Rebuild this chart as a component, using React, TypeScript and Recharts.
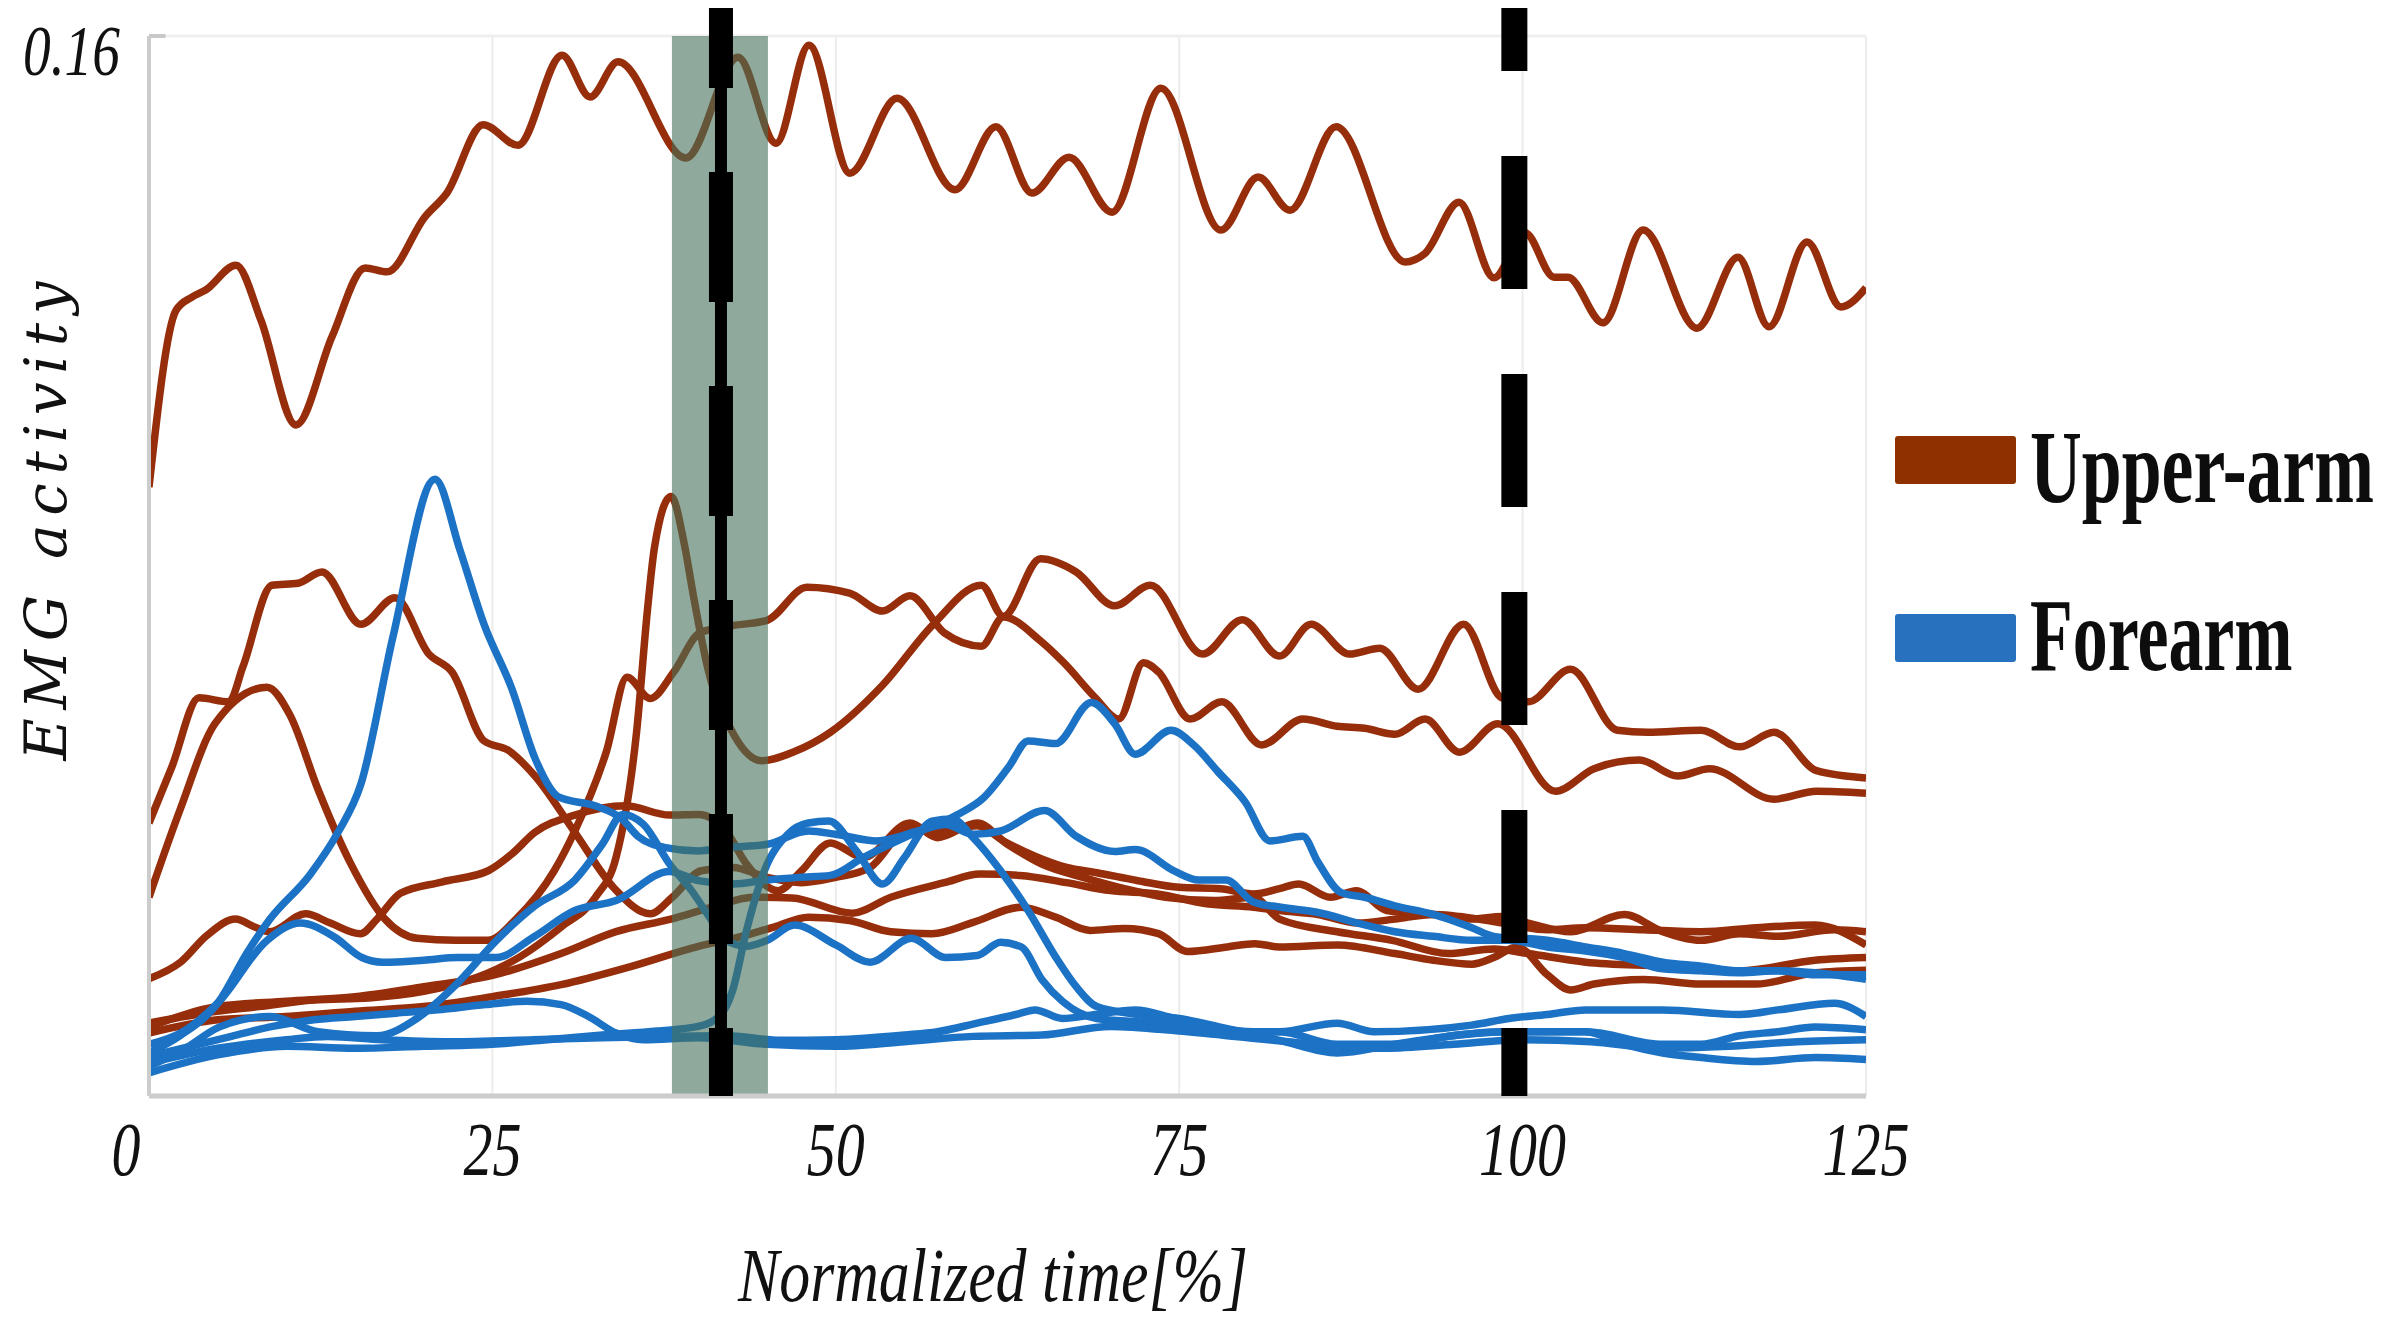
import React from 'react';
import { LineChart, Line, XAxis, YAxis, CartesianGrid, ReferenceLine, ReferenceArea } from 'recharts';

type Pt = [number, number];

const xTicks = [0, 25, 50, 75, 100, 125];
const yTicks = [0.16];
const xTitle = 'Normalized time[%]';
const yTitle = 'EMG activity';
const upperColor = '#962D0B';
const foreColor = '#1C72C4';
const legendItems = [
  { label: 'Upper-arm', color: '#8F3000', sx: 0.69 },
  { label: 'Forearm', color: '#2771BF', sx: 0.672 },
];
const eventSolid = 41.64;
const eventDashed = 99.4;
const bandRange = [38.07, 45.06];

// Upper-arm series [time %, EMG]
const upperA: Pt[] = [[0,0.0919],[1.97,0.1186],[3.13,0.1206],[4.15,0.1217],[6.33,0.1254],[8.15,0.1171],[10.7,0.1013],[13.32,0.1146],[15.73,0.125],[17.33,0.1244],[20.09,0.1327],[21.69,0.1363],[24.32,0.1466],[26.86,0.1435],[30.07,0.1571],[32.11,0.1508],[34.14,0.1561],[39.09,0.1416],[42.88,0.1568],[45.65,0.1438],[48.05,0.1586],[51.03,0.1393],[54.46,0.1506],[58.68,0.1368],[61.66,0.1463],[64.28,0.1363],[66.98,0.1417],[70.11,0.1334],[73.67,0.1521],[78.04,0.1307],[80.74,0.1387],[83.07,0.1337],[86.42,0.1463],[91.44,0.1259],[92.9,0.1272],[95.37,0.1349],[97.92,0.1235],[100.17,0.1303],[102.29,0.1236],[103.3,0.1236],[105.85,0.1167],[108.77,0.1307],[112.7,0.1159],[115.68,0.1266],[117.94,0.1161],[120.71,0.1289],[123.18,0.1191],[125,0.122]];
const upperB: Pt[] = [[0,0.0412],[1.67,0.0497],[3.64,0.0601],[5.82,0.0595],[6.84,0.0648],[8.95,0.0771],[10.85,0.0774],[12.59,0.0791],[15.43,0.0712],[17.91,0.0752],[20.38,0.0667],[22.06,0.064],[24.39,0.0536],[26.14,0.0522],[28.1,0.0483],[31,0.0398],[33.85,0.0314],[36.5,0.0275],[38.1,0.03],[40.2,0.034],[42.5,0.0345],[45,0.033],[47.5,0.0322],[50,0.033],[52.5,0.0345],[55.4,0.0405],[57.4,0.04],[60.3,0.0408],[62.2,0.0385],[64.5,0.0362],[66.8,0.0345],[69,0.0337],[72,0.0325],[75,0.0315],[78,0.0313],[80.4,0.0305],[82.3,0.0313],[83.7,0.032],[86,0.03],[87.9,0.031],[90.1,0.028],[93.5,0.0274],[96.3,0.0267],[98.5,0.0271],[100.4,0.0261],[103.5,0.0248],[107.4,0.0274],[110.2,0.0248],[113,0.0235],[115.8,0.0245],[118.6,0.0241],[122.7,0.0251],[125,0.0248]];
const upperC: Pt[] = [[0,0.011],[4,0.0125],[8,0.0135],[12,0.0145],[16,0.0148],[20,0.0158],[24,0.018],[27,0.021],[30,0.0255],[32.5,0.03],[34,0.036],[35.5,0.055],[36.3,0.0736],[36.8,0.0828],[38,0.0905],[39,0.083],[39.6,0.0759],[40.7,0.0644],[42.4,0.0552],[44.6,0.0506],[47,0.052],[49.6,0.0549],[53.4,0.062],[57.1,0.0712],[60.6,0.0771],[62.2,0.0724],[64.9,0.0811],[67.5,0.0791],[70.3,0.074],[72.9,0.0771],[76.7,0.0667],[79.6,0.0719],[82.3,0.0664],[84.6,0.0712],[87.4,0.0667],[89.6,0.0676],[92.4,0.0614],[95.7,0.0712],[98.5,0.0601],[100.4,0.0595],[103.5,0.0644],[106.9,0.0552],[109.1,0.0549],[113,0.0552],[115.8,0.0527],[118.3,0.0549],[121.4,0.0491],[125,0.048]];
const upperD: Pt[] = [[0,0.03],[2.26,0.0432],[4.8,0.0562],[8.59,0.0617],[10.26,0.0575],[12.3,0.0463],[14.63,0.0353],[17.18,0.0267],[19.51,0.0238],[22.35,0.0235],[24.68,0.0235],[26.72,0.0267],[29.5,0.034],[31,0.04],[33.3,0.052],[34.8,0.0632],[36.5,0.06],[38.2,0.064],[40.1,0.0699],[42.5,0.071],[45,0.0718],[47.9,0.0768],[51,0.0759],[53.4,0.0732],[55.4,0.0755],[57.9,0.0699],[60.6,0.0679],[62.2,0.0723],[64.9,0.0687],[66.6,0.0654],[68.9,0.0601],[70.6,0.0569],[72.4,0.0654],[73.5,0.064],[75.8,0.0569],[78.1,0.0595],[81,0.053],[84,0.0569],[86.5,0.0558],[88.5,0.0555],[90.7,0.0546],[92.9,0.0569],[95.4,0.0519],[98.2,0.0562],[102.4,0.046],[105.2,0.0494],[108.5,0.0507],[111.3,0.0483],[113.6,0.0494],[118.3,0.0448],[121.4,0.046],[125,0.0457]];
const upperE: Pt[] = [[0,0.0177],[2.3,0.0202],[4.2,0.0242],[6.3,0.0267],[7.7,0.0255],[8.8,0.0248],[11.4,0.0275],[13.2,0.0261],[15.4,0.0245],[16.6,0.0267],[18.3,0.0306],[21.3,0.0323],[24.7,0.034],[26.4,0.0365],[28.1,0.0398],[31,0.0424],[34.7,0.0438],[37.9,0.0424],[40,0.0425],[42,0.04],[43.5,0.035],[45.8,0.031],[47.5,0.034],[49.6,0.0382],[52,0.036],[55.4,0.0412],[57.4,0.039],[60.3,0.0412],[62.5,0.038],[65,0.035],[68,0.033],[71,0.0313],[74,0.03],[77.5,0.0295],[80.4,0.03],[82.3,0.0267],[86.5,0.0248],[90.5,0.0235],[94.6,0.0215],[97.9,0.0222],[100.4,0.0215],[104.6,0.0202],[110.2,0.0196],[115.8,0.0189],[121.3,0.0205],[125,0.0209]];
const upperF: Pt[] = [[0,0.0104],[5,0.0135],[10,0.0143],[15,0.015],[20,0.0165],[25,0.0182],[30,0.0215],[34,0.0248],[38,0.0267],[41,0.0285],[44,0.03],[46.8,0.0299],[51.2,0.0276],[54,0.03],[57.9,0.0322],[60.5,0.0335],[63.4,0.0333],[66.8,0.0322],[70,0.031],[73.4,0.0305],[77,0.029],[80.4,0.0285],[82.3,0.028],[85.1,0.0274],[88,0.0261],[90.7,0.0267],[93.5,0.0274],[96.8,0.0267],[98.5,0.0261],[101.8,0.0251],[104.6,0.0254],[108.8,0.0251],[113,0.0248],[117,0.0254],[121.3,0.0258],[125,0.0228]];
const upperG: Pt[] = [[0,0.0095],[5,0.0115],[10,0.012],[15,0.0128],[20,0.0135],[25,0.015],[30,0.0168],[35,0.0195],[40,0.0226],[43,0.024],[45.5,0.0255],[48,0.027],[51,0.0265],[54,0.0248],[57,0.0245],[60,0.0262],[63.5,0.0285],[66,0.027],[68.5,0.025],[71,0.0253],[73.5,0.0245],[75.6,0.0218],[78.5,0.0225],[80.5,0.023],[82.3,0.0225],[86.5,0.0228],[90.7,0.0215],[93.5,0.0205],[96.3,0.0199],[97.9,0.0209],[99.6,0.0225],[101.8,0.0183],[103.5,0.016],[105.2,0.0169],[108.8,0.0176],[113,0.0169],[117,0.0169],[121.3,0.0186],[125,0.019]];

// Forearm series [time %, EMG]
const foreA: Pt[] = [[0,0.0065],[2.26,0.0091],[5.1,0.0143],[7.13,0.0216],[8.81,0.0267],[11.72,0.0334],[13.76,0.0398],[15.43,0.0471],[17.76,0.0693],[20.82,0.0931],[22.64,0.0824],[24.39,0.0712],[26.43,0.0614],[28.1,0.051],[29.85,0.0451],[32.47,0.0438],[34.44,0.0418],[35.6,0.0392],[37.6,0.0375],[40,0.037],[42,0.0375],[45,0.038],[48,0.04],[50,0.0395],[53,0.0385],[56,0.04],[58,0.041],[60,0.0395],[62,0.04],[65.2,0.0431],[67.5,0.0392],[70.3,0.0369],[71.8,0.0372],[74.7,0.0339],[76.4,0.0326],[78.4,0.0326],[80.4,0.0293],[82.4,0.0285],[85.1,0.0277],[88,0.0261],[90.7,0.0248],[93.5,0.0241],[96.3,0.0235],[99,0.0235],[101.8,0.0225],[104.6,0.0219],[107.4,0.0209],[110.2,0.0192],[113,0.0189],[115.8,0.0186],[118.6,0.0189],[121.3,0.0186],[125,0.0176]];
const foreB: Pt[] = [[0,0.0078],[2.3,0.0095],[5,0.014],[8.6,0.0235],[11,0.0261],[13.5,0.024],[15.5,0.0209],[17,0.0202],[20,0.0205],[22.5,0.0209],[25.3,0.0209],[28,0.024],[31,0.028],[34,0.0295],[37.9,0.0339],[40,0.0325],[42.5,0.032],[45,0.0326],[47.3,0.033],[49.6,0.0333],[52,0.036],[55,0.039],[58.8,0.0424],[60.8,0.0451],[62.6,0.0497],[64,0.0536],[66,0.0532],[68.6,0.0594],[70.3,0.0562],[71.8,0.0516],[74.4,0.0552],[76.1,0.0529],[77.8,0.049],[79.8,0.0444],[81.6,0.0385],[84,0.0392],[85.1,0.0353],[86.8,0.0307],[88.5,0.03],[90.7,0.0287],[93.5,0.0274],[96.3,0.0254],[97.9,0.0241],[101.8,0.0235],[104.6,0.0225],[107.4,0.0215],[110.2,0.0202],[113,0.0196],[115.8,0.0189],[118.6,0.0189],[121.3,0.0183],[125,0.0183]];
const foreC: Pt[] = [[0,0.0045],[2.5,0.007],[5.1,0.0104],[8.8,0.012],[12.3,0.0097],[16.6,0.0091],[19.5,0.0117],[22.4,0.0169],[25.3,0.0235],[28.1,0.0287],[31,0.0326],[33,0.038],[34.5,0.0425],[36,0.041],[37.9,0.035],[39.5,0.031],[40.8,0.027],[42,0.0235],[43.5,0.0226],[45,0.0235],[47,0.0258],[50,0.0228],[52.5,0.0202],[55.5,0.0238],[58,0.0209],[60.3,0.0212],[62,0.0232],[63.5,0.0225],[65,0.0176],[66.5,0.0143],[69,0.0117],[72,0.0112],[75,0.0108],[78,0.0097],[82.3,0.0097],[86.5,0.0078],[90.7,0.0078],[94.9,0.0091],[99,0.0097],[104.6,0.0097],[110.2,0.0078],[113,0.0078],[115.8,0.0091],[118.6,0.0097],[121.3,0.0104],[125,0.01]];
const foreD: Pt[] = [[0,0.0035],[5,0.0062],[10,0.0075],[15,0.0072],[20,0.0075],[25,0.0078],[29,0.0085],[33,0.0092],[37,0.0098],[40,0.0105],[41.5,0.012],[42.5,0.016],[43.5,0.025],[44.8,0.034],[46.5,0.0395],[48,0.0412],[49.5,0.0415],[51.5,0.037],[53.4,0.032],[55,0.036],[57,0.0415],[58.5,0.0418],[60,0.039],[62,0.034],[64,0.028],[66,0.021],[67.5,0.0165],[69,0.0135],[72,0.0123],[75,0.0117],[78,0.0104],[82.3,0.0084],[86.5,0.0065],[90.7,0.0078],[94.9,0.0091],[98.5,0.0097],[104.6,0.0097],[107.4,0.0078],[110.2,0.0065],[113,0.0058],[117,0.0052],[121.3,0.0058],[125,0.0055]];
const foreE: Pt[] = [[0,0.005],[5,0.0072],[10,0.0085],[13,0.009],[17,0.0085],[22,0.0082],[28,0.0085],[33,0.0088],[38,0.009],[42,0.0091],[46,0.0084],[50,0.0085],[55,0.0092],[57.4,0.0097],[60.3,0.011],[63.1,0.0123],[64.5,0.013],[66.5,0.0117],[68.9,0.0123],[71.8,0.013],[74.7,0.0117],[77.5,0.0104],[80.4,0.0097],[82.3,0.0097],[86.5,0.011],[89.2,0.0097],[96.3,0.0107],[99,0.0117],[101.8,0.0123],[104.6,0.013],[110.2,0.013],[115.8,0.0123],[118.6,0.013],[122.7,0.014],[125,0.012]];
const foreF: Pt[] = [[0,0.006],[3,0.0075],[6,0.009],[9,0.0105],[12,0.0115],[15,0.012],[18,0.0125],[21,0.013],[24.5,0.0138],[27.5,0.0143],[30,0.0138],[32,0.012],[34,0.0095],[36,0.0085],[40,0.0088],[45,0.0078],[50,0.0075],[55,0.0082],[60,0.009],[65,0.0092],[70,0.0105],[75,0.0098],[80,0.0088],[85,0.0078],[90,0.0072],[95,0.0078],[100,0.0085],[105,0.0082],[110,0.0072],[115,0.0075],[120,0.0082],[125,0.0085]];

const upperSeries = [upperA, upperB, upperC, upperD, upperE, upperF, upperG];
const foreSeries = [foreA, foreB, foreC, foreD, foreE, foreF];

const toData = (s: Pt[]) => s.map(([t, v]) => ({ t, v }));

const W = 2387;
const H = 1320;
const PLOT_TOP = 36;
const PLOT_BOTTOM = 1096;
const topValue = 0.16 + (PLOT_TOP * 0.16) / (PLOT_BOTTOM - PLOT_TOP);

const XTick = (props: any) => {
  const { x, y, payload } = props;
  const s = String(payload.value);
  return (
    <text
      x={x + (payload.value === 0 ? -23 : 0)}
      y={y + 79}
      textAnchor="middle"
      fontFamily="Liberation Serif"
      fontStyle="italic"
      fontSize={76}
      fill="#111"
      textLength={29 * s.length}
      lengthAdjust="spacingAndGlyphs"
    >
      {s}
    </text>
  );
};

const YTick = (props: any) => {
  const { x, y, payload } = props;
  return (
    <text
      x={x - 29}
      y={y + 39}
      textAnchor="end"
      fontFamily="Liberation Serif"
      fontStyle="italic"
      fontSize={72}
      fill="#111"
      textLength={97}
      lengthAdjust="spacingAndGlyphs"
    >
      {String(payload.value)}
    </text>
  );
};

export default function App() {
  return (
    <div style={{ position: 'relative', width: W, height: H, margin: '-8px 0 0 -8px', background: '#ffffff' }}>
      <LineChart width={W} height={H} margin={{ top: PLOT_TOP, right: 521, bottom: 124, left: 49 }}>
        <CartesianGrid horizontal={false} vertical stroke="#ececec" strokeWidth={2} />
        <XAxis
          type="number"
          dataKey="t"
          domain={[0, 125]}
          ticks={xTicks}
          interval={0}
          allowDataOverflow
          tick={XTick}
          tickLine={false}
          tickSize={0}
          tickMargin={0}
          height={100}
          axisLine={{ stroke: '#cccccc', strokeWidth: 5 }}
        />
        <YAxis
          type="number"
          dataKey="v"
          domain={[0, 0.16]}
          ticks={yTicks}
          allowDataOverflow
          tick={YTick}
          tickLine={false}
          tickSize={0}
          tickMargin={0}
          width={100}
          axisLine={{ stroke: '#cccccc', strokeWidth: 4 }}
        />
        <ReferenceLine y={0.16} stroke="#efefef" strokeWidth={3} />
        <ReferenceLine segment={[{ x: 0, y: 0.16 }, { x: 1.2, y: 0.16 }]} stroke="#c8c8c8" strokeWidth={4} ifOverflow="visible" />
        {upperSeries.map((s, i) => (
          <Line key={'u' + i} data={toData(s)} dataKey="v" type="monotone" stroke={upperColor} strokeWidth={7.5} dot={false} activeDot={false} isAnimationActive={false} />
        ))}
        {foreSeries.map((s, i) => (
          <Line key={'f' + i} data={toData(s)} dataKey="v" type="monotone" stroke={foreColor} strokeWidth={7.5} dot={false} activeDot={false} isAnimationActive={false} />
        ))}
        <ReferenceArea x1={bandRange[0]} x2={bandRange[1]} y1={0} y2={0.16} fill="#44715A" fillOpacity={0.6} stroke="none" zIndex={450} />
        <ReferenceLine segment={[{ x: eventSolid, y: topValue }, { x: eventSolid, y: 0 }]} stroke="#000" strokeWidth={12} ifOverflow="visible" zIndex={500} />
        <ReferenceLine segment={[{ x: eventSolid, y: topValue }, { x: eventSolid, y: 0 }]} stroke="#000" strokeWidth={24} strokeDasharray="130 84" strokeDashoffset={42} ifOverflow="visible" zIndex={500} />
        <ReferenceLine segment={[{ x: eventDashed, y: topValue }, { x: eventDashed, y: 0 }]} stroke="#000" strokeWidth={26} strokeDasharray="133 85" strokeDashoffset={62} ifOverflow="visible" zIndex={500} />
      </LineChart>
      <svg width={W} height={H} style={{ position: 'absolute', left: 0, top: 0, pointerEvents: 'none' }}>
        <text x={993} y={1301} textAnchor="middle" fontFamily="Liberation Serif" fontStyle="italic" fontSize={76} fill="#111" textLength={510} lengthAdjust="spacingAndGlyphs">{xTitle}</text>
        <text transform="translate(66,521) rotate(-90)" x={0} y={0} textAnchor="middle" fontFamily="DejaVu Serif" fontStyle="italic" fontSize={58} fill="#111" textLength={479} lengthAdjust="spacing">{yTitle}</text>
        {legendItems.map((it, i) => (
          <g key={it.label}>
            <rect x={1895} y={i === 0 ? 436 : 614} width={121} height={48} rx={3} fill={it.color} />
            <text transform={`translate(2030,${i === 0 ? 502 : 670}) scale(${it.sx},1)`} x={0} y={0} fontFamily="Liberation Serif" fontWeight="bold" fontSize={104} fill="#0d0d0d">{it.label}</text>
          </g>
        ))}
      </svg>
    </div>
  );
}
